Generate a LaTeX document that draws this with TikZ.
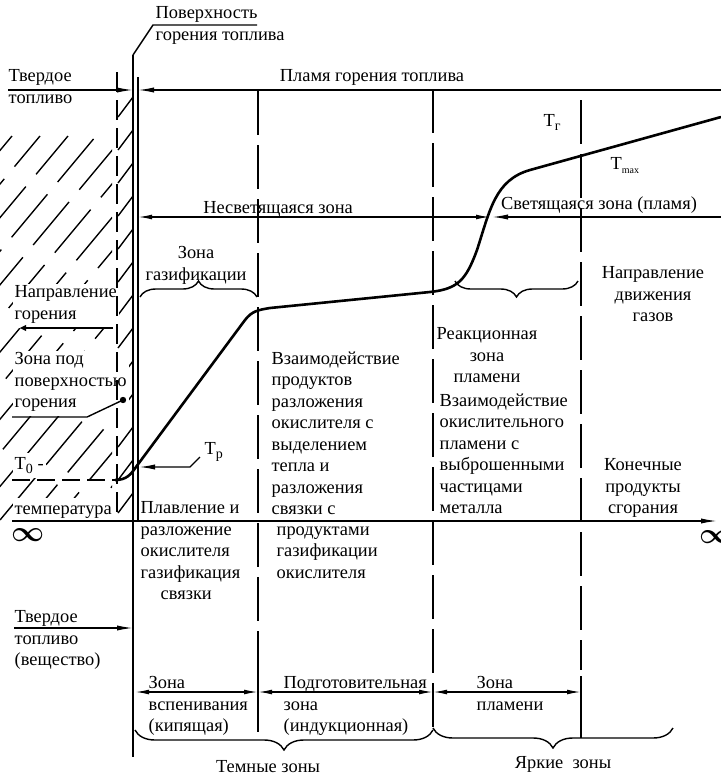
\documentclass[tikz,border=0pt]{standalone}
\usepackage{fontspec}
\usepackage{bm}
\setmainfont{Liberation Serif}
\usetikzlibrary{arrows.meta,decorations.pathreplacing}
\newcommand{\lowsub}[1]{\raisebox{-0.45ex}{\scriptsize #1}}
\begin{document}
\begin{tikzpicture}[x=0.5pt, y=-0.5pt, line width=0.7pt,
  every node/.style={inner sep=0pt, font=\fontsize{9.2}{10.75}\selectfont},
  lbl/.style={anchor=north west, align=left, execute at begin node=\strut},
  clbl/.style={anchor=north, align=center, execute at begin node=\strut},
  wlbl/.style={lbl, fill=white, inner sep=1pt},
  zonedash/.style={dash pattern=on 22pt off 5pt},
  arr/.style={-{Latex[length=8pt,width=2.6pt]}},
  darr/.style={{Latex[length=7pt,width=2.4pt]}-{Latex[length=7pt,width=2.4pt]}},
  brc/.style={decorate, decoration={brace, amplitude=#1}},
  brc/.default=8pt,
  curve/.style={line width=1.3pt}]
\useasboundingbox (0,0) rectangle (721,777);

% solid fuel
\begin{scope}
  \clip (0,108) rectangle (112,520);
  \foreach \i in {-13,...,4}
    \draw[dash pattern=on 28pt off 8pt, dash phase=\i*5pt] (\i*28,520) -- ++(320,-384);
\end{scope}
\foreach \y in {97,130,...,497}
  \draw (118,\y+20) -- (133,\y);

\node[lbl] (fuel) at (8,69) {Твердое\\топливо};
\node[wlbl] (burndir) at (12,283) {Направление\\горения};
\node[wlbl] (sub) at (12,350) {Зона под\\поверхностью\\горения};
\node[wlbl] (tnull) at (12,452) {T\lowsub{0} -};
\node[wlbl] (temp) at (12,497) {температура};

\node[lbl] (surf) at (155,6) {Поверхность\\горения топлива};
\coordinate (stop) at (133,55);
\draw (stop) -- (153,25) -- (257,25);
\draw (stop) -- (133,757);
\draw (138,77) -- (138,521);
\draw[dash pattern=on 10pt off 4pt] (117,72) -- (117,521);

% zones
\draw[zonedash] (258,91) -- (258,665);
\draw (258,665) -- (258,732);
\draw[zonedash] (433,89) -- (433,736);
\draw[zonedash] (581,100) -- (581,670);
\draw (581,676) -- (581,738);

\node[clbl] (flame) at (372,66) {Пламя горения топлива};
\draw[arr] (8,90) -- (133,90);
\draw[arr] (721,90) -- (138,90);

\node[clbl] (dark) at (278,198) {Несветящаяся зона};
\node[clbl] (bright) at (599,194) {Светящаяся зона (пламя)};
\draw[darr] (138,217) -- (490,217);
\draw[arr] (721,217) -- (492,217);

\node[clbl] (gas) at (196,246) {Зона\\газификации};
\draw[brc] (140,297) -- (257,297);
\draw[brc] (578,281) -- (455,281);
\node[clbl] (gasdir) at (653,266) {Направление\\движения\\газов};

\node[lbl] (tg) at (543,111) {T\lowsub{г}};
\node[lbl] (tmax) at (610,154) {T\lowsub{\tiny max}};

% temperature
\draw[dash pattern=on 9pt off 3.5pt] (12,480) -- (115,480);
\draw[curve] (115,480) .. controls (127,480) and (131,474) .. (136,467) -- (245,320)
  .. controls (252,311) and (258,310) .. (270,308) -- (430,292)
  .. controls (458,289) and (466,280) .. (477,250)
  .. controls (490,210) and (495,180) .. (530,170) -- (721,117);

\node[lbl] (tp) at (204,439) {T\lowsub{р}};
\coordinate (tpend) at (139,467);
\draw[arr] (200,457) -- (190,467) -- (tpend);
\draw (sub.south west) -- ++(75,0) -- (123,400);
\fill (123,400) circle (1.6pt);
\draw[arr, line width=1.4pt] (113,328) -- (10,328);

% axis
\draw[arr] (12,521) -- (717,521);
\node (infl) at (28,535) {\fontsize{14}{14}\selectfont$\bm{\infty}$};
\node (infr) at (716,537) {\fontsize{14}{14}\selectfont$\bm{\infty}$};

\node[lbl] (melt) at (140,501) {Плавление и\\разложение\\окислителя\\газификация\\\hspace*{10pt}связки};
\node[lbl] (inter) at (271,351) {Взаимодействие\\продуктов\\разложения\\окислителя с\\выделением\\тепла и\\разложения\\связки с};
\node[lbl] (interb) at (276,526) {продуктами\\газификации\\окислителя};
\node[clbl] (react) at (487,327) {Реакционная\\зона\\пламени};
\node[lbl] (reactb) at (439,393) {Взаимодействие\\окислительного\\пламени с\\выброшенными\\частицами\\металла};
\node[clbl] (final) at (643,458) {Конечные\\продукты\\сгорания};

\node[lbl] (fuelb) at (14,610) {Твердое\\топливо\\(вещество)};
\draw[arr] (14,628) -- (133,628);

% bottom zones
\node[lbl] (foam) at (148,676) {Зона\\вспенивания\\(кипящая)};
\node[lbl] (prep) at (283,676) {Подготовительная\\зона\\(индукционная)};
\node[lbl] (flamez) at (476,676) {Зона\\пламени};
\draw[darr] (135,692) -- (258,692);
\draw[darr] (258,692) -- (433,692);
\draw[darr] (433,692) -- (581,692);
\draw[brc=10pt] (433,730) -- (135,730);
\draw[brc=10pt] (673,728) -- (433,728);
\node[clbl] (darkz) at (268,757) {Темные зоны};
\node[clbl] (brightz) at (563,753) {Яркие\ \ зоны};
\end{tikzpicture}
\end{document}
